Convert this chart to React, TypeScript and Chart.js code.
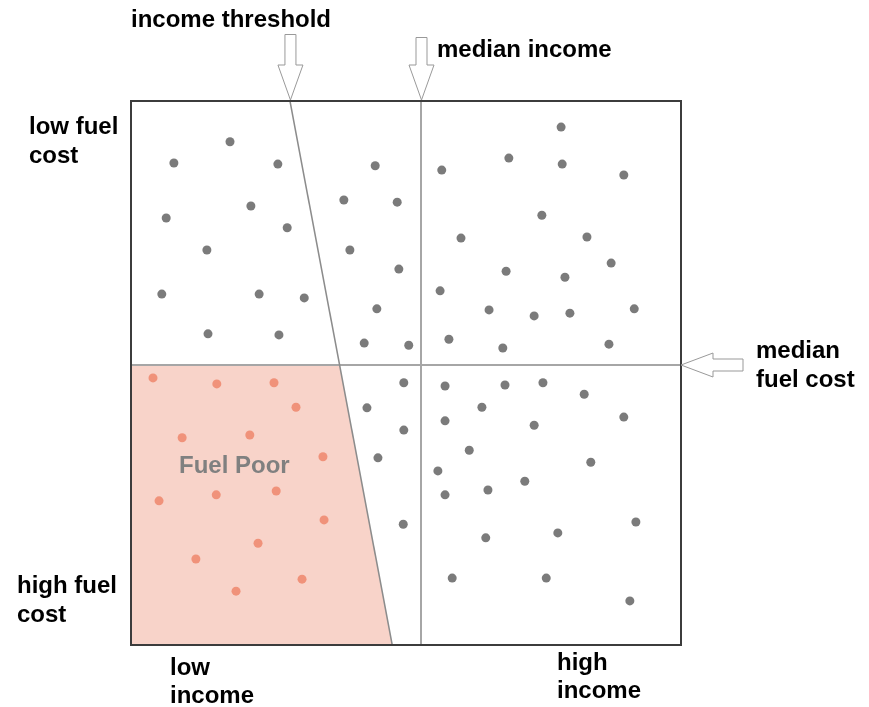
import React, { useEffect, useRef } from "react";
import { Chart, registerables } from "chart.js";

Chart.register(...registerables);

// income index (0 = low, 100 = high), fuel cost index (0 = low at top, 100 = high at bottom)
const otherIncome = [
  7.8, 18.0, 26.7, 6.4, 21.8, 28.4, 13.8, 5.6, 23.3, 31.5, 14.0, 26.9,
  44.4, 38.7, 48.4, 39.8, 48.7, 44.7, 42.4, 50.5,
  78.2, 56.5, 68.7, 78.4, 89.6, 74.7, 60.0, 82.9, 68.2, 78.9, 87.3, 56.2, 65.1, 73.3, 79.8, 91.5, 57.8, 67.6, 86.9,
  49.6, 42.9, 49.6, 44.9, 49.5,
  57.1, 68.0, 74.9, 82.4, 63.8, 57.1, 73.3, 89.6, 61.5, 55.8, 83.6, 57.1, 64.9, 71.6, 64.5, 77.6, 91.8, 58.4, 75.5, 90.7,
];
const otherFuelCost = [
  11.4, 7.5, 11.6, 21.5, 19.3, 23.3, 27.4, 35.5, 35.5, 36.2, 42.8, 43.0,
  11.9, 18.2, 18.6, 27.4, 30.9, 38.2, 44.5, 44.9,
  4.8, 12.7, 10.5, 11.6, 13.6, 21.0, 25.2, 25.0, 31.3, 32.4, 29.8, 34.9, 38.4, 39.5, 39.0, 38.2, 43.8, 45.4, 44.7,
  51.8, 56.4, 60.5, 65.6, 77.8,
  52.4, 52.2, 51.8, 53.9, 56.3, 58.8, 59.6, 58.1, 64.2, 68.0, 66.4, 72.4, 71.5, 69.9, 80.3, 79.4, 77.4, 87.7, 87.7, 91.9,
];
const poorIncome = [4.0, 15.6, 26.0, 30.0, 9.3, 21.6, 34.9, 5.1, 15.5, 26.4, 35.1, 23.1, 11.8, 31.1, 19.1];
const poorFuelCost = [50.9, 52.0, 51.8, 56.3, 61.9, 61.4, 65.4, 73.5, 72.4, 71.7, 77.0, 81.3, 84.2, 87.9, 90.1];

const medianIncome = 52.7;
const medianFuelCost = 48.5;
// income threshold line: income at fuel cost 0 and at fuel cost 100
const thresholdTop = 28.9;
const thresholdBottom = 47.5;

const FONT = "bold 24px 'Liberation Sans', Arial, sans-serif";

const overlay = {
  id: "overlay",
  beforeDatasetsDraw(chart: any) {
    const { ctx, chartArea: a, scales } = chart;
    const xs = scales.x;
    const ys = scales.y;
    const thrAt = (fc: number) => thresholdTop + (thresholdBottom - thresholdTop) * (fc / 100);
    ctx.save();
    // fuel poor shading
    ctx.fillStyle = "#f8d3c9";
    ctx.beginPath();
    ctx.moveTo(xs.getPixelForValue(0), ys.getPixelForValue(medianFuelCost));
    ctx.lineTo(xs.getPixelForValue(thrAt(medianFuelCost)), ys.getPixelForValue(medianFuelCost));
    ctx.lineTo(xs.getPixelForValue(thresholdBottom), ys.getPixelForValue(100));
    ctx.lineTo(xs.getPixelForValue(0), ys.getPixelForValue(100));
    ctx.closePath();
    ctx.fill();

    // median lines
    ctx.strokeStyle = "#a6a6a6";
    ctx.lineWidth = 2;
    const mx = Math.round(xs.getPixelForValue(medianIncome));
    const my = Math.round(ys.getPixelForValue(medianFuelCost));
    ctx.beginPath();
    ctx.moveTo(mx, a.top);
    ctx.lineTo(mx, a.bottom);
    ctx.moveTo(a.left, my);
    ctx.lineTo(a.right, my);
    ctx.stroke();

    // threshold line
    ctx.strokeStyle = "#8c8c8c";
    ctx.lineWidth = 1.5;
    ctx.beginPath();
    ctx.moveTo(xs.getPixelForValue(thresholdTop), a.top);
    ctx.lineTo(xs.getPixelForValue(thresholdBottom), a.bottom);
    ctx.stroke();

    // box
    ctx.strokeStyle = "#3c3c3c";
    ctx.lineWidth = 2;
    ctx.strokeRect(a.left, a.top, a.right - a.left, a.bottom - a.top);

    // hollow arrows
    ctx.strokeStyle = "#999999";
    ctx.fillStyle = "#ffffff";
    ctx.lineWidth = 1;
    const downArrow = (tx: number, ty: number, topY: number) => {
      ctx.beginPath();
      ctx.moveTo(tx - 5.5, topY);
      ctx.lineTo(tx + 5.5, topY);
      ctx.lineTo(tx + 5.5, ty - 35);
      ctx.lineTo(tx + 12.5, ty - 35);
      ctx.lineTo(tx, ty);
      ctx.lineTo(tx - 12.5, ty - 35);
      ctx.lineTo(tx - 5.5, ty - 35);
      ctx.closePath();
      ctx.fill();
      ctx.stroke();
    };
    downArrow(xs.getPixelForValue(thresholdTop) + 0.5, a.top - 1, 34.5);
    downArrow(mx + 0.5, a.top - 1, 37.5);
    // left arrow
    const tx = a.right;
    const ty = my;
    ctx.beginPath();
    ctx.moveTo(tx, ty);
    ctx.lineTo(tx + 32, ty - 12);
    ctx.lineTo(tx + 32, ty - 6);
    ctx.lineTo(tx + 62, ty - 6);
    ctx.lineTo(tx + 62, ty + 6);
    ctx.lineTo(tx + 32, ty + 6);
    ctx.lineTo(tx + 32, ty + 12);
    ctx.closePath();
    ctx.fill();
    ctx.stroke();

    // labels
    ctx.fillStyle = "#000000";
    ctx.font = FONT;
    ctx.textBaseline = "alphabetic";
    ctx.textAlign = "left";
    ctx.fillText("income threshold", 131, 27);
    ctx.fillText("median income", 437, 57);
    ctx.fillText("median", 756, 358);
    ctx.fillText("fuel cost", 756, 387);
    ctx.fillText("low fuel", 29, 134);
    ctx.fillText("cost", 29, 163);
    ctx.fillText("high fuel", 17, 593);
    ctx.fillText("cost", 17, 622);
    ctx.fillText("low", 170, 675);
    ctx.fillText("income", 170, 703);
    ctx.fillText("high", 557, 670);
    ctx.fillText("income", 557, 698);

    ctx.fillStyle = "#808080";
    ctx.fillText("Fuel Poor", 179, 473);
    ctx.restore();
  },
};

export default function App() {
  const ref = useRef<HTMLCanvasElement | null>(null);
  useEffect(() => {
    if (!ref.current) return;
    const chart = new Chart(ref.current, {
      type: "scatter",
      data: {
        datasets: [
          {
            label: "households",
            data: otherIncome.map((x, i) => ({ x, y: otherFuelCost[i] })),
            backgroundColor: "#7b7b7b",
            borderWidth: 0,
            pointRadius: 4.5,
          },
          {
            label: "fuel poor households",
            data: poorIncome.map((x, i) => ({ x, y: poorFuelCost[i] })),
            backgroundColor: "#f0927a",
            borderWidth: 0,
            pointRadius: 4.5,
          },
        ],
      },
      options: {
        animation: false,
        responsive: false,
        maintainAspectRatio: false,
        layout: { padding: { left: 131, right: 188, top: 101, bottom: 62 } },
        plugins: { legend: { display: false }, tooltip: { enabled: false } },
        scales: {
          x: { type: "linear", min: 0, max: 100, display: false },
          y: { type: "linear", min: 0, max: 100, reverse: true, display: false },
        },
      },
      plugins: [overlay],
    });
    return () => chart.destroy();
  }, []);
  return (
    <div style={{ position: "fixed", left: 0, top: 0, width: 869, height: 707, background: "#fff" }}>
      <canvas ref={ref} width={869} height={707} style={{ width: 869, height: 707, display: "block" }} />
    </div>
  );
}
